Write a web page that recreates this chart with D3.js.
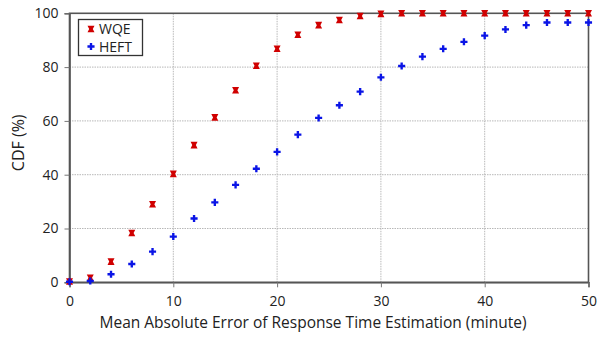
<!DOCTYPE html>
<html>
<head>
<meta charset="utf-8">
<script src="https://cdn.jsdelivr.net/npm/d3@7"></script>
<style>
  body { margin: 0; background: #fff; }
  svg text { font-family: "Open Sans", "Liberation Sans", sans-serif; fill: #222; }
</style>
</head>
<body>
<svg id="chart" width="603" height="341"></svg>
<script>
// Error values (minutes) at which the CDF is sampled
const errors = [0, 2, 4, 6, 8, 10, 12, 14, 16, 18, 20, 22, 24, 26, 28, 30, 32, 34, 36, 38, 40, 42, 44, 46, 48, 50];
// CDF (%) per method
const wqe  = [0.3, 1.7, 7.7, 18.3, 29.0, 40.3, 51.0, 61.3, 71.4, 80.5, 86.8, 92.0, 95.6, 97.5, 99.0, 99.8, 100, 100, 100, 100, 100, 100, 100, 100, 100, 100];
const heft = [0.2, 0.5, 3.0, 6.8, 11.4, 17.0, 23.7, 29.7, 36.2, 42.2, 48.5, 54.9, 61.1, 65.8, 70.9, 76.2, 80.4, 83.9, 86.8, 89.4, 91.7, 94.0, 95.6, 96.6, 96.6, 96.6];
const xTicks = [0, 10, 20, 30, 40, 50];
const yTicks = [0, 20, 40, 60, 80, 100];
const seriesNames = ["WQE", "HEFT"];
const seriesColors = ["#d00000", "#0a14e6"];

const svg = d3.select("#chart");
const m = { left: 69.5, right: 588.5, top: 13.3, bottom: 282.3 };

const x = d3.scaleLinear().domain([0, 50]).range([m.left, m.right]);
const y = d3.scaleLinear().domain([0, 100]).range([m.bottom, m.top]);

// dotted grid lines
const grid = svg.append("g");
grid.selectAll("line.gx").data(xTicks.slice(1, -1)).join("line")
  .attr("x1", d => x(d)).attr("x2", d => x(d))
  .attr("y1", m.top).attr("y2", m.bottom)
  .attr("stroke", "#b8b8b8").attr("stroke-width", 1).attr("stroke-dasharray", "1.5,1");
grid.selectAll("line.gy").data(yTicks.slice(1, -1)).join("line")
  .attr("x1", m.left).attr("x2", m.right)
  .attr("y1", d => y(d)).attr("y2", d => y(d))
  .attr("stroke", "#b8b8b8").attr("stroke-width", 1).attr("stroke-dasharray", "1.5,1");

// plot frame
svg.append("rect")
  .attr("x", m.left).attr("y", m.top)
  .attr("width", m.right - m.left).attr("height", m.bottom - m.top)
  .attr("fill", "none").attr("stroke", "#555").attr("stroke-width", 1.6);

// axes
const xAxis = svg.append("g").attr("transform", `translate(0,${m.bottom})`)
  .call(d3.axisBottom(x).tickValues(xTicks).tickSize(5).tickPadding(9));
const yAxis = svg.append("g").attr("transform", `translate(${m.left},0)`)
  .call(d3.axisLeft(y).tickValues(yTicks).tickSize(5).tickPadding(6));
[xAxis, yAxis].forEach(a => {
  a.select(".domain").attr("stroke", "#555").attr("stroke-width", 1.6);
  a.selectAll(".tick line").attr("stroke", "#777");
  a.selectAll("text").attr("font-size", 14).attr("fill", "#222")
    .attr("font-family", "'Open Sans', 'Liberation Sans', sans-serif");
});

// axis titles
svg.append("text")
  .attr("x", 313).attr("y", 328)
  .attr("text-anchor", "middle").attr("font-size", 15.5)
  .text("Mean Absolute Error of Response Time Estimation (minute)");
svg.append("text")
  .attr("transform", `translate(24,${(m.top + m.bottom) / 2 - 5}) rotate(-90)`)
  .attr("text-anchor", "middle").attr("font-size", 16)
  .text("CDF (%)");

// marker shapes: bow-tie for WQE, plus for HEFT
const bowtie = "M-3.5,-3.3 L3.5,-3.3 L1.8,0 L3.5,3.3 L-3.5,3.3 L-1.8,0 Z";
const plus = d3.symbol().type(d3.symbolCross).size(28)();
const shapes = [bowtie, plus];

const series = [wqe, heft];
series.forEach((vals, i) => {
  svg.append("g").selectAll("path").data(errors.map((e, k) => [e, vals[k]])).join("path")
    .attr("transform", d => `translate(${x(d[0])},${y(d[1])})`)
    .attr("d", shapes[i])
    .attr("fill", seriesColors[i]);
});

// legend
const lg = svg.append("g");
lg.append("rect").attr("x", 78.5).attr("y", 19.5).attr("width", 64).attr("height", 36)
  .attr("fill", "#fff").attr("stroke", "#333").attr("stroke-width", 1.3);
seriesNames.forEach((name, i) => {
  const cy = 29 + i * 17.5;
  lg.append("path").attr("transform", `translate(91,${cy})`).attr("d", shapes[i]).attr("fill", seriesColors[i]);
  lg.append("text").attr("x", 99).attr("y", cy + 5).attr("font-size", 14).text(name);
});
</script>
</body>
</html>
